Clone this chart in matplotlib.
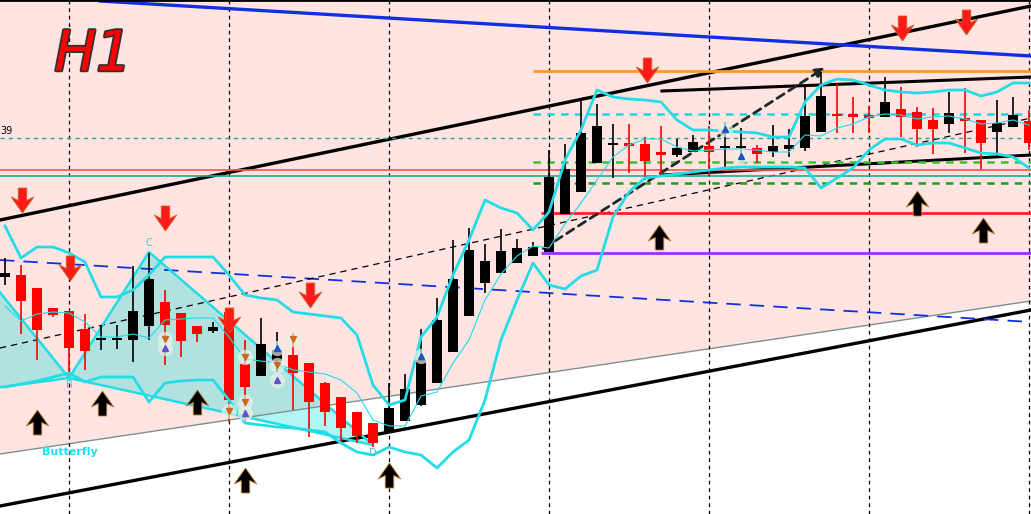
import numpy as np
import matplotlib
matplotlib.use("Agg")
import matplotlib.pyplot as plt
import matplotlib.patheffects as pe
from matplotlib.path import Path

# H1 candles, prices in pips above the chart floor
opens = [237, 239, 226, 206, 203, 185, 174, 174, 174, 188,
         212, 201, 188, 183, 202, 150, 138, 153, 159, 151,
         131, 117, 102, 91, 81, 93, 109, 131, 162, 198,
         231, 241, 251, 258, 262, 300, 322, 351, 369, 371,
         370, 362, 359, 362, 368, 366, 366, 366, 362, 365,
         366, 382, 400, 400, 399, 397, 405, 402, 394, 390,
         396, 394, 382, 387, 393]
highs = [256, 249, 226, 206, 203, 200, 189, 189, 248, 261,
         224, 201, 188, 192, 202, 174, 196, 182, 181, 151,
         132, 117, 102, 91, 131, 140, 185, 216, 274, 286,
         270, 285, 275, 272, 364, 370, 414, 410, 390, 390,
         377, 388, 375, 379, 388, 392, 386, 369, 389, 385,
         427, 442, 430, 417, 408, 437, 427, 407, 406, 422,
         426, 394, 414, 417, 404]
lows = [229, 180, 154, 197, 139, 144, 164, 165, 152, 174,
        149, 157, 172, 181, 92, 91, 138, 142, 104, 77,
        88, 71, 71, 67, 81, 93, 108, 131, 162, 198,
        221, 241, 251, 258, 262, 300, 322, 351, 336, 341,
        334, 338, 357, 362, 338, 347, 357, 351, 357, 357,
        363, 382, 381, 381, 381, 397, 377, 367, 360, 381,
        361, 345, 357, 387, 364]
closes = [241, 213, 184, 199, 166, 163, 175, 175, 203, 235,
          189, 173, 180, 187, 114, 127, 170, 164, 141, 112,
          102, 86, 78, 71, 106, 125, 154, 194, 235, 264,
          253, 263, 266, 267, 337, 345, 381, 388, 371, 368,
          353, 359, 366, 372, 362, 367, 367, 360, 368, 369,
          398, 418, 398, 397, 396, 412, 397, 385, 385, 401,
          393, 371, 391, 399, 371]

# Bollinger style envelope
band_upper = [288, 256, 267, 267, 261, 252, 217, 217, 224, 239,
              257, 257, 257, 257, 239, 219, 216, 214, 202, 200,
              198, 196, 179, 129, 109, 114, 177, 197, 239, 274,
              314, 306, 301, 284, 302, 354, 384, 424, 417, 415,
              414, 412, 394, 384, 384, 383, 382, 381, 377, 377,
              412, 429, 435, 434, 429, 424, 422, 421, 422, 424,
              424, 418, 422, 431, 431]
band_lower = [127, 130, 133, 137, 141, 132, 137, 137, 137, 112,
              131, 133, 134, 134, 114, 91, 89, 87, 86, 84,
              82, 71, 62, 59, 67, 62, 59, 46, 62, 74,
              114, 174, 214, 251, 229, 225, 238, 244, 297, 322,
              336, 338, 340, 342, 344, 346, 347, 347, 347, 347,
              346, 326, 336, 346, 364, 375, 375, 369, 371, 371,
              366, 361, 360, 357, 346]
band_mid = [208, 193, 200, 202, 201, 192, 177, 177, 180, 176,
            194, 195, 196, 196, 177, 155, 153, 151, 144, 142,
            140, 134, 121, 94, 88, 88, 118, 122, 151, 174,
            214, 240, 258, 268, 266, 290, 311, 334, 357, 369,
            375, 375, 367, 363, 364, 365, 365, 364, 362, 362,
            379, 378, 386, 390, 397, 400, 399, 395, 397, 398,
            395, 390, 391, 394, 389]

# butterfly pattern X A B C D
pat_names = ["X", "A", "B", "C", "D"]
pat_bar = [-3, -3, 4, 9, 23]
pat_price = [121, 275, 136, 262, 69]

# trend lines: (bar0, price0, bar1, price1)
chan_top = (-0.3125, 294, 64.125, 508)
chan_bot = (-0.3125, 8, 64.125, 204)
zone_edge = (-0.3125, 60, 64.125, 213)
blue_line = (5.94, 513, 64.125, 458)
blue_dash = (-0.3125, 254, 64.125, 192)
mid_dash = (-0.3125, 166, 64.125, 396)
box_top = (41.06, 423, 64.125, 437)
box_bot = (41.06, 339, 64.125, 359)
proj_arrow = (33.5, 264, 50.9, 442)

# horizontal levels: (start bar, price)
lvl_orange = (33, 443)
lvl_cyan = (33, 400)
lvl_green1 = (33, 352)
lvl_green2 = (33, 331)
lvl_red = (33.5, 301)
lvl_purple = (33.5, 261)
full_teal_dash = 376
full_red = 344
full_teal = 338

# fractal arrows
down_bar = [1.06, 4.06, 10, 19.06, 14, 40.1, 56.06, 60.06]
down_price = [314, 246, 296, 219, 194, 444, 486, 492]
up_bar = [2, 6.06, 12, 15, 24, 40.9, 57, 61.1]
up_price = [92, 111, 112, 34, 39, 277, 311, 284]

# small pattern marks
mark_bar = [10, 10, 14, 15, 15, 15, 17, 17, 17, 18, 26, 45, 46]
mark_price = [175, 166, 103, 157, 112, 101, 166, 149, 134, 175, 158, 385, 358]
mark_kind = ["o", "p", "o", "o", "o", "p", "b", "o", "p", "o", "b", "b", "b"]

grid_bars = [4, 14, 24, 34, 44, 54, 64]

fig = plt.figure(figsize=(10.31, 5.14), dpi=100)
ax = fig.add_axes([0, 0, 1, 1])
xmin, xmax = -0.3125, 64.125
ax.set_xlim(xmin, xmax)
ax.set_ylim(0, 514)
ax.axis("off")

# pink zone above the grey edge line
xs = np.array([xmin - 1, xmax + 1])
k = (zone_edge[3] - zone_edge[1]) / (zone_edge[2] - zone_edge[0])
edge = zone_edge[1] + k * (xs - zone_edge[0])
ax.fill_between(xs, edge, 600, color="#ffe4e1", zorder=0, lw=0)
ax.plot(xs, edge, color="#7f9090", lw=1.0, zorder=2)

# pattern triangles
for tri in [(0, 1, 2), (2, 3, 4)]:
    tx = [pat_bar[j] for j in tri]
    ty = [pat_price[j] for j in tri]
    ax.fill(tx, ty, color="#00dede", alpha=0.3, lw=0, zorder=1)
    ax.plot(tx + [tx[0]], ty + [ty[0]], color="#22dde6", lw=1.8, zorder=4)

for g in grid_bars:
    ax.axvline(g, color="black", lw=0.9, ls=(0, (3, 3)), zorder=2)


def seg(line, **kw):
    ax.plot([line[0], line[2]], [line[1], line[3]], **kw)


seg(chan_top, color="black", lw=2.4, zorder=3)
seg(chan_bot, color="black", lw=2.4, zorder=3)
seg(blue_line, color="#1030e0", lw=2.4, zorder=3)
seg(blue_dash, color="#1030e0", lw=1.3, ls=(0, (8, 5)), zorder=3)
seg(mid_dash, color="black", lw=0.9, ls=(0, (5, 4)), zorder=3)
seg(box_top, color="black", lw=2.2, zorder=3)
seg(box_bot, color="black", lw=2.2, zorder=3)

ax.hlines(lvl_orange[1], lvl_orange[0], xmax, color="#ff9a20", lw=2, zorder=3)
ax.hlines(lvl_cyan[1], lvl_cyan[0], xmax, color="#20d4e0", lw=1.8, ls=(0, (3, 2.5)), zorder=3)
ax.hlines(lvl_green1[1], lvl_green1[0], xmax, color="#33c433", lw=1.8, ls=(0, (3, 2.5)), zorder=3)
ax.hlines(lvl_green2[1], lvl_green2[0], xmax, color="#209a20", lw=1.8, ls=(0, (3, 2.5)), zorder=3)
ax.hlines(lvl_red[1], lvl_red[0], xmax, color="#ff2020", lw=2, zorder=3)
ax.hlines(lvl_purple[1], lvl_purple[0], xmax, color="#9a30ff", lw=2, zorder=3)
ax.axhline(full_teal_dash, color="#20a898", lw=1.0, ls=(0, (3, 3)), zorder=3)
ax.axhline(full_red, color="#ff5050", lw=1.2, zorder=3)
ax.axhline(full_teal, color="#20a8a0", lw=1.2, zorder=3)
ax.axhline(514, color="black", lw=2, zorder=3)

ax.annotate("", xy=(proj_arrow[2] + 0.5, proj_arrow[3] + 6), xytext=(proj_arrow[0], proj_arrow[1]),
            arrowprops=dict(arrowstyle="-|>", color="#1a2a2a", lw=2, ls=(0, (3, 2)),
                            mutation_scale=14), zorder=4)

# candles
bars = np.arange(len(opens))
o = np.array(opens)
c = np.array(closes)
up = c >= o
col = np.where(up, "black", "#ff0000")
ax.vlines(bars, lows, highs, colors=col, lw=1.2, zorder=5)
body_lo = np.minimum(o, c)
body_h = np.maximum(np.abs(c - o), 2)
ax.bar(bars, body_h, bottom=body_lo, width=0.68, color=col, lw=0, zorder=5)

# bands
ax.plot(bars, band_upper, color="#22dde6", lw=2, zorder=6)
ax.plot(bars, band_lower, color="#22dde6", lw=2, zorder=6)
ax.plot(bars, band_mid, color="#22dde6", lw=0.8, zorder=6)

# arrow markers
arrow_dn = Path([(-0.17, 0.5), (0.17, 0.5), (0.17, 0.0), (0.45, 0.14), (0, -0.5),
                 (-0.45, 0.14), (-0.17, 0.0), (-0.17, 0.5)])
arrow_up = Path([(x, -y) for x, y in arrow_dn.vertices])
ax.plot(down_bar, down_price, ls="none", marker=arrow_dn, markersize=18,
        color="#ff1a1a", markeredgecolor="#d06020", markeredgewidth=0.6, zorder=8)
ax.plot(up_bar, up_price, ls="none", marker=arrow_up, markersize=18,
        color="black", markeredgecolor="#c08030", markeredgewidth=0.6, zorder=8)

kind_col = {"o": "#d0651e", "p": "#6a4ccd", "b": "#2050c8"}
kind_mk = {"o": "v", "p": "^", "b": "^"}
for b, p, kd in zip(mark_bar, mark_price, mark_kind):
    ax.plot(b, p, "o", ms=11, color="#e6f2e6", alpha=0.7, zorder=6.5, mew=0)
    ax.plot(b, p, kind_mk[kd], ms=5, color=kind_col[kd], zorder=7)

# labels
ax.text(5.5, 459, "H1", color="#ff0000", fontsize=40, fontstyle="italic",
        ha="center", va="center", zorder=9,
        path_effects=[pe.withStroke(linewidth=2.5, foreground="#303030")])
ax.text(xmin, 383, "39", fontsize=7, color="black", ha="left", va="center", zorder=9)
ax.text(pat_bar[3], pat_price[3] + 9, pat_names[3], color="#30c8d0", fontsize=7,
        ha="center", va="center", zorder=9)
ax.text(pat_bar[2], pat_price[2] - 7, pat_names[2], color="#30c8d0", fontsize=7,
        ha="center", va="center", zorder=9)
ax.text(pat_bar[4], pat_price[4] - 8, pat_names[4], color="#30c8d0", fontsize=7,
        ha="center", va="center", zorder=9)
ax.text(4.06, 62, "Butterfly", color="#20e0ee", fontsize=8, fontweight="bold",
        ha="center", va="center", zorder=9)

fig.savefig("out.png", dpi=100)
